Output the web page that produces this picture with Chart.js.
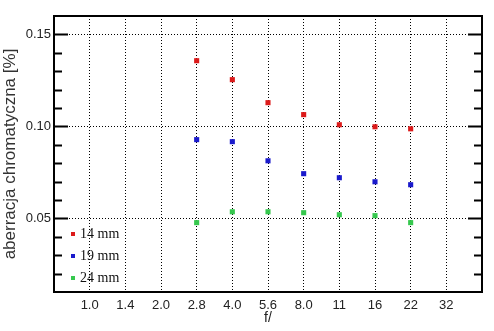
<!DOCTYPE html>
<html>
<head>
<meta charset="utf-8">
<script src="https://cdn.jsdelivr.net/npm/chart.js@4.4.0/dist/chart.umd.min.js"></script>
<style>
  html, body { margin: 0; padding: 0; background: #fff; }
</style>
</head>
<body>
<canvas id="chart" width="494" height="331"></canvas>
<script>
// 光圈刻度 (x 轴类别)
const fStops = ['1.0', '1.4', '2.0', '2.8', '4.0', '5.6', '8.0', '11', '16', '22', '32'];
// 实测的光圈
const measuredStops = ['2.8', '4.0', '5.6', '8.0', '11', '16', '22'];
const seriesNames = ['14 mm', '19 mm', '24 mm'];
const seriesColors = ['#dc1a1a', '#1a1acc', '#36c84e'];
// 色差数值 [%]
const val14 = [0.1357, 0.1254, 0.1129, 0.1064, 0.1009, 0.0998, 0.0987];
const val19 = [0.0928, 0.0917, 0.0813, 0.0743, 0.0721, 0.0699, 0.0683];
const val24 = [0.0477, 0.0536, 0.0536, 0.0531, 0.0520, 0.0515, 0.0477];
// y 轴范围
const yMin = 0.01, yMax = 0.16, yStep = 0.01;

const isMajor = v => Math.round(v * 100) % 5 === 0;

function makeSeries(values) {
    return values.map((v, i) => ({ x: fStops.indexOf(measuredStops[i]), y: v }));
}

// 边框和内侧刻度
const frameTicks = {
    id: 'frameTicks',
    beforeDatasetsDraw(chart) {
        const { ctx, chartArea: a, scales: { y } } = chart;
        ctx.save();
        ctx.strokeStyle = '#000';
        ctx.lineWidth = 2;
        y.ticks.forEach(t => {
            const v = t.value;
            if (Math.abs(v - yMin) < 1e-6 || Math.abs(v - yMax) < 1e-6) return;
            const py = Math.round(y.getPixelForValue(v)) + 0.5;
            const len = isMajor(v) ? 14 : 8;
            ctx.beginPath();
            ctx.moveTo(a.left, py);
            ctx.lineTo(a.left + len, py);
            ctx.moveTo(a.right - len, py);
            ctx.lineTo(a.right, py);
            ctx.stroke();
        });
        ctx.strokeRect(a.left, a.top, a.right - a.left, a.bottom - a.top);
        ctx.restore();
    }
};

// 图内图例
const innerLegend = {
    id: 'innerLegend',
    afterDraw(chart) {
        const { ctx, chartArea: a } = chart;
        ctx.save();
        ctx.font = '14px "Liberation Serif", serif';
        ctx.textBaseline = 'middle';
        chart.data.datasets.forEach((ds, i) => {
            const cy = 234 + i * 22;
            ctx.fillStyle = ds.backgroundColor;
            ctx.fillRect(a.left + 17, cy - 2, 4, 4);
            ctx.fillStyle = '#111';
            ctx.fillText(ds.label, a.left + 26, cy + 0.5);
        });
        ctx.restore();
    }
};

const ctx = document.getElementById('chart').getContext('2d');
new Chart(ctx, {
    type: 'scatter',
    data: {
        datasets: [val14, val19, val24].map((vals, i) => ({
            label: seriesNames[i],
            data: makeSeries(vals),
            backgroundColor: seriesColors[i],
            borderColor: seriesColors[i],
            pointStyle: 'rect',
            pointRadius: 3.6,
            pointHoverRadius: 3.6,
            borderWidth: 0
        }))
    },
    options: {
        responsive: false,
        animation: false,
        layout: { padding: { left: 0, top: 16, right: 12, bottom: 0 } },
        scales: {
            x: {
                type: 'linear',
                min: -1,
                max: 11,
                border: { display: false, dash: [1, 2] },
                grid: {
                    drawTicks: false,
                    color: c => (c.tick && (c.tick.value === -1 || c.tick.value === 11)) ? 'rgba(0,0,0,0)' : '#000'
                },
                ticks: {
                    stepSize: 1,
                    autoSkip: false,
                    maxRotation: 0,
                    padding: 6,
                    color: '#222',
                    font: { family: '"Liberation Sans", Arial, sans-serif', size: 13 },
                    callback: v => fStops[v] ?? ''
                },
                title: {
                    display: true,
                    text: 'f/',
                    color: '#222',
                    padding: { top: 0, bottom: 4 },
                    font: { family: '"Liberation Sans", Arial, sans-serif', size: 14 }
                },
                afterFit: s => { s.height = 39; }
            },
            y: {
                min: yMin,
                max: yMax,
                border: { display: false, dash: [1, 2] },
                grid: {
                    drawTicks: false,
                    color: c => (c.tick && isMajor(c.tick.value) && c.tick.value < yMax - 1e-6) ? '#000' : 'rgba(0,0,0,0)'
                },
                ticks: {
                    stepSize: yStep,
                    autoSkip: false,
                    padding: 3,
                    color: '#222',
                    font: { family: '"Liberation Sans", Arial, sans-serif', size: 13 },
                    callback: v => isMajor(v) && v < yMax - 1e-6 ? v.toFixed(2) : ''
                },
                title: {
                    display: true,
                    text: 'aberracja chromatyczna [%]',
                    color: '#333',
                    padding: { top: 0, bottom: 0 },
                    font: { family: '"Liberation Sans", Arial, sans-serif', size: 17 }
                },
                afterFit: s => { s.width = 54; }
            }
        },
        plugins: {
            legend: { display: false },
            tooltip: { enabled: false }
        }
    },
    plugins: [frameTicks, innerLegend]
});
</script>
</body>
</html>
